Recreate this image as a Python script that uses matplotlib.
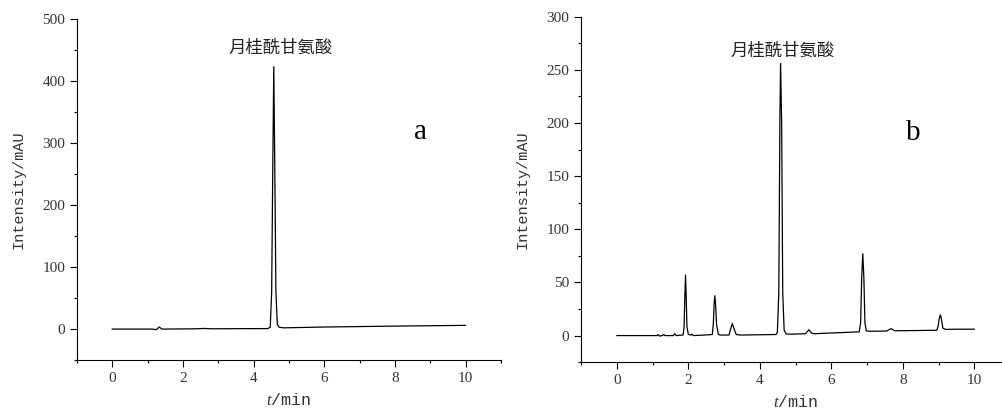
import numpy as np
import matplotlib
matplotlib.use('Agg')
import matplotlib.pyplot as plt
from matplotlib.ticker import MultipleLocator

plt.rcParams['font.family'] = ['Liberation Serif', 'Noto Sans CJK SC']
plt.rcParams['mathtext.fontset'] = 'custom'
plt.rcParams['mathtext.it'] = 'Liberation Serif:italic'
plt.rcParams['mathtext.rm'] = 'Liberation Serif'

# chromatogram a (standard)
t_a = [0, 1.15, 1.22, 1.27, 1.33, 1.40, 1.5, 2.4, 2.6, 2.8, 4.40, 4.47, 4.51, 4.54,
       4.57, 4.60, 4.63, 4.67, 4.72, 4.85, 6, 8, 10]
y_a = [0, 0, -1, 0, 3.5, 0, 0, 0.5, 1, 0.5, 0.8, 3, 60, 250,
       423, 250, 60, 8, 3, 2, 3.3, 4.8, 6]

# chromatogram b (sample)
t_b = [0, 1.12, 1.15, 1.19, 1.27, 1.31, 1.35, 1.58, 1.62, 1.66,
       1.85, 1.88, 1.90, 1.92, 1.94, 1.96, 2.00, 2.07, 2.10, 2.14,
       2.45, 2.67, 2.70, 2.72, 2.74, 2.76, 2.79, 2.84, 2.9,
       3.14, 3.18, 3.23, 3.28, 3.34, 3.45,
       4.45, 4.49, 4.53, 4.56, 4.58, 4.61, 4.64, 4.68, 4.74, 4.9,
       5.28, 5.37, 5.46, 5.55,
       6.78, 6.82, 6.85, 6.88, 6.91, 6.94, 6.98, 7.06,
       7.55, 7.67, 7.78,
       8.95, 8.99, 9.02, 9.05, 9.08, 9.12, 9.2, 9.5, 10]
y_b = [0, 0, 1, -0.5, 0, 1, 0, 0, 1.8, 0,
       0.5, 8, 35, 57, 35, 8, 1, 0.5, 1.3, 0,
       0.5, 1, 12, 30, 37.5, 30, 10, 1, 0.5,
       0.5, 6, 11.5, 6, 1, 0.5,
       1, 3, 40, 200, 256, 200, 40, 5, 1.5, 1.3,
       1.8, 5.5, 2, 1.8,
       3.5, 12, 55, 77, 55, 12, 4.5, 4,
       4.3, 6.5, 4.5,
       5, 9, 16, 19.5, 16, 7, 5.8, 6, 6]

label_cn = '月桂酰甘氨酸'

fig = plt.figure(figsize=(10.02, 4.12), dpi=100)
ax1 = fig.add_axes([0.0768, 0.126, 0.4232, 0.828])
ax2 = fig.add_axes([0.58, 0.121, 0.428, 0.8385])

def style(ax, ymin, ymax, ymaj, ymin_step):
    ax.set_xlim(-1, 11)
    ax.set_ylim(ymin, ymax)
    ax.xaxis.set_major_locator(MultipleLocator(2))
    ax.xaxis.set_minor_locator(MultipleLocator(1))
    ax.yaxis.set_major_locator(MultipleLocator(ymaj))
    ax.yaxis.set_minor_locator(MultipleLocator(ymin_step))
    ax.spines['top'].set_visible(False)
    ax.spines['right'].set_visible(False)
    ax.tick_params(which='major', direction='out', length=5, width=0.8,
                   labelsize=11, colors='black', labelcolor='#333333')
    ax.tick_params(which='minor', direction='out', length=2.5, width=0.8)
    ax.set_xticks([0, 2, 4, 6, 8, 10])
    ax.set_ylabel('Intensity/mAU', family='Liberation Mono', fontsize=11,
                  color='#333333', labelpad=12)
    ax.set_xlabel(r'$\mathit{t}$/min', family='Liberation Mono', fontsize=12,
                  color='#333333', labelpad=5)

ax1.plot(t_a, y_a, color='black', lw=0.9)
style(ax1, -50, 500, 100, 50)
ax1.text(4.77, 453, label_cn, family='Noto Sans CJK SC', fontsize=12.5,
         ha='center', va='center', color='#222222')
ax1.text(8.72, 318, 'a', fontsize=21, ha='center', va='center')

ax2.plot(t_b, y_b, color='black', lw=0.9)
style(ax2, -25, 300, 50, 25)
ax2.text(4.65, 268, label_cn, family='Noto Sans CJK SC', fontsize=12.5,
         ha='center', va='center', color='#222222')
ax2.text(8.28, 191, 'b', fontsize=21, ha='center', va='center')

fig.savefig('out.png', dpi=100)
